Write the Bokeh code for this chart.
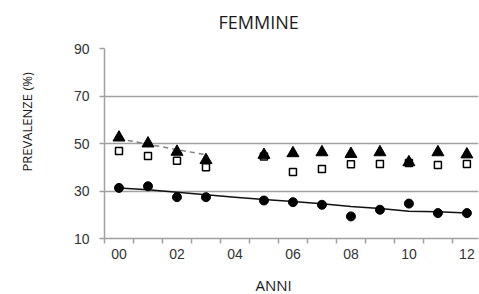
from bokeh.plotting import figure
from bokeh.models import Range1d, FixedTicker, LinearAxis, Title
from bokeh.embed import file_html
from bokeh.resources import INLINE

nan = float("nan")

# ---- data ----
years = ["00", "01", "02", "03", "04", "05", "06", "07", "08", "09", "10", "11", "12"]
triangles = [52.5, 50.0, 46.5, 43.0, nan, 45.2, 45.9, 46.3, 45.6, 46.3, 42.1, 46.3, 45.4]
squares = [46.8, 44.7, 42.7, 40.0, nan, 44.5, 38.0, 39.3, 41.3, 41.4, 41.8, 40.9, 41.4]
circles = [31.3, 32.0, 27.4, 27.4, nan, 26.0, 25.3, 24.2, 19.3, 22.1, 24.7, 20.7, 20.7]
circle_trend = [31.3, 30.5, 29.5, 28.4, 27.4, 26.4, 25.6, 24.6, 23.5, 22.6, 21.5, 21.3, 20.7]
triangle_trend = [52.0, 49.7, 47.4, 45.3]  # years 00..03
y_ticks = [10, 30, 50, 70, 90]
title_text = "FEMMINE"
x_title = "ANNI"
y_title = "PREVALENZE (%)"

xs = list(range(len(years)))

p = figure(width=479, height=294, output_backend="svg", toolbar_location=None,
           x_range=Range1d(-0.5, 12.4), y_range=Range1d(10, 90),
           min_border_left=104, min_border_right=1, min_border_top=48, min_border_bottom=56)
p.outline_line_color = None
p.background_fill_color = "white"
p.border_fill_color = "white"

grid_col = "#a0a0a0"
text_col = "#1a1a1a"
tick_col = "#333333"

# x axis: line + tick marks between categories (no labels)
bounds_ticks = [i - 0.5 for i in range(len(years) + 1)]
xa = p.xaxis[0]
xa.ticker = FixedTicker(ticks=bounds_ticks)
xa.major_label_overrides = {t: "" for t in bounds_ticks}
xa.major_label_text_color = None
xa.major_tick_out = 5
xa.major_tick_in = 0
xa.minor_tick_line_color = None
xa.major_tick_line_color = grid_col
xa.major_tick_line_width = 1.5
xa.axis_line_color = grid_col
xa.axis_line_width = 1.5
xa.major_label_standoff = 0

# x tick labels centred on the categories
xl = LinearAxis(ticker=FixedTicker(ticks=xs[::2]),
                major_label_overrides={i: years[i] for i in xs[::2]},
                major_tick_out=0, major_tick_in=0, minor_tick_line_color=None,
                major_tick_line_color=None, axis_line_color=None, major_label_standoff=5,
                major_label_text_font="Liberation Sans", major_label_text_font_size="14px",
                major_label_text_color=tick_col)
p.add_layout(xl, "below")

# y axis
ya = p.yaxis[0]
ya.ticker = FixedTicker(ticks=y_ticks)
ya.major_tick_out = 5
ya.major_tick_in = 0
ya.minor_tick_line_color = None
ya.major_tick_line_color = grid_col
ya.major_tick_line_width = 1.5
ya.axis_line_color = grid_col
ya.axis_line_width = 1.5
ya.major_label_standoff = 10
ya.major_label_text_font = "Liberation Sans"
ya.major_label_text_font_size = "14px"
ya.major_label_text_color = tick_col

p.xgrid.grid_line_color = None
p.ygrid.ticker = FixedTicker(ticks=y_ticks)
p.ygrid.grid_line_color = grid_col
p.ygrid.grid_line_width = 1.5


def spacer(side, size, mid):
    # blank axis used only to reserve room between the frame and a title
    ax = LinearAxis(ticker=FixedTicker(ticks=[mid]), major_tick_out=size, major_tick_in=0,
                    minor_tick_line_color=None, major_tick_line_color="white",
                    major_tick_line_width=1, axis_line_color=None,
                    major_label_text_color=None, major_label_standoff=0)
    p.add_layout(ax, side)


# titles
spacer("above", 15, 0)
p.add_layout(Title(text=title_text, align="left", offset=114, vertical_align="bottom", standoff=0,
                   text_font="Open Sans", text_font_size="18px", text_font_style="normal",
                   text_color=text_col), "above")
spacer("below", 11, 0)
p.add_layout(Title(text=x_title, align="left", offset=151, vertical_align="bottom", standoff=0,
                   text_font="Open Sans", text_font_size="15px", text_font_style="normal",
                   text_color=text_col), "below")
spacer("left", 35, 10)
p.add_layout(Title(text=y_title, align="left", offset=67, vertical_align="bottom", standoff=0,
                   text_font="Open Sans", text_font_size="13px", text_font_style="normal",
                   text_color=text_col), "left")

# trend lines
p.line(xs[:len(triangle_trend)], triangle_trend, line_color="#808080", line_width=1.5, line_dash="5 4")
p.line(xs, circle_trend, line_color="#111111", line_width=1.5)

# markers
p.scatter(xs, squares, marker="square", size=7, fill_color="white", line_color="black", line_width=1.5)
p.scatter(xs, circles, marker="circle", size=9, fill_color="black", line_color="black")
p.scatter(xs, triangles, marker="triangle", size=12, fill_color="black", line_color="black")

open("out.html", "w").write(file_html(p, INLINE))
